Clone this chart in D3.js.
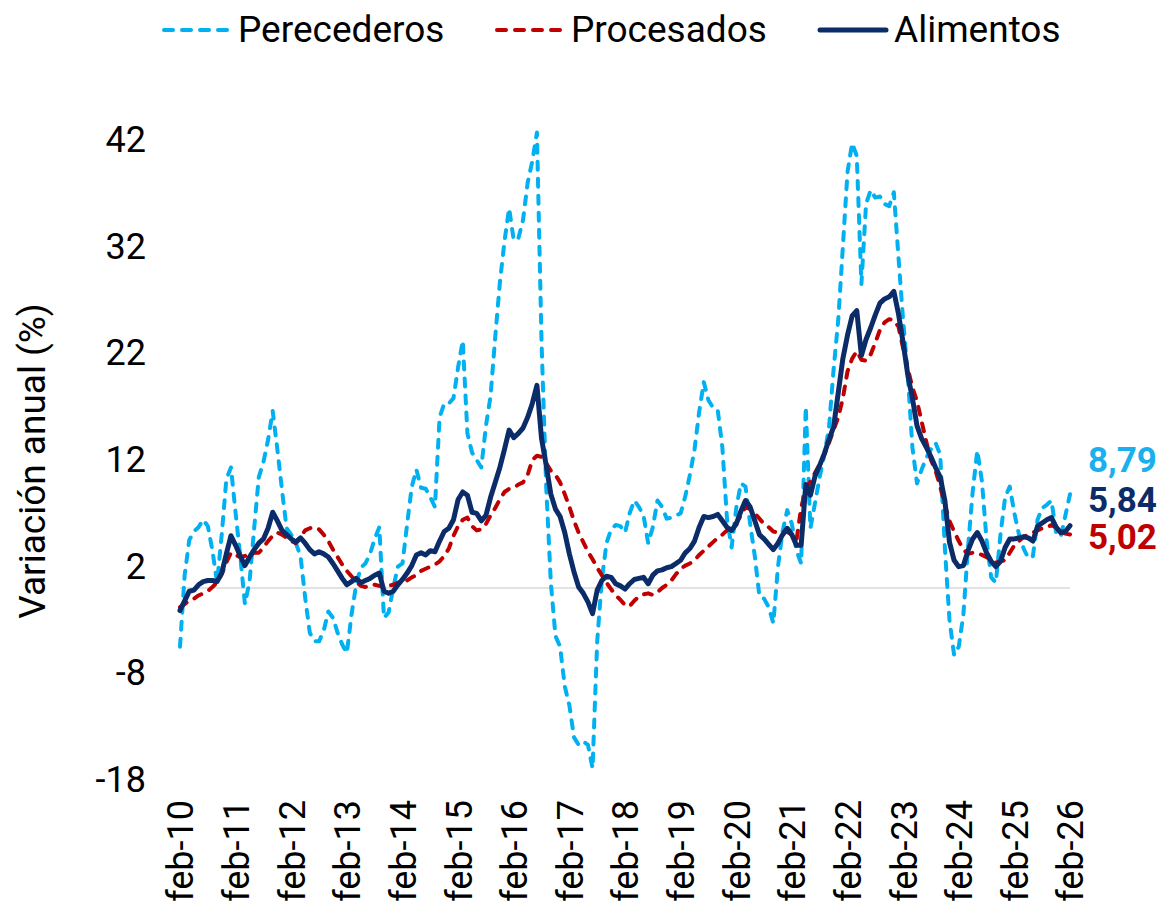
<!DOCTYPE html>
<html>
<head>
<meta charset="utf-8">
<script src="https://cdn.jsdelivr.net/npm/d3@7"></script>
<style>
  body { margin: 0; background: #fff; }
  svg { font-family: Roboto, "Noto Sans", sans-serif; }
</style>
</head>
<body>
<svg id="chart" width="1168" height="910"></svg>
<script>
// monthly data, feb-10 .. feb-26
const tickLabels = ["feb-10","feb-11","feb-12","feb-13","feb-14","feb-15","feb-16","feb-17",
  "feb-18","feb-19","feb-20","feb-21","feb-22","feb-23","feb-24","feb-25","feb-26"];
const yTicks = [-18, -8, 2, 12, 22, 32, 42];

const perecederos = [
  -5.5, 1.2, 4.5, 5.3, 5.7, 6.4, 5.8, 3.5, 0.5, 5.0, 10.2, 11.3,
  7.0, 3.0, -1.5, 0.6, 5.6, 10.4, 11.8, 13.9, 16.6, 13.0, 9.2, 5.6,
  5.0, 4.2, 3.0, -0.9, -4.2, -5.0, -5.0, -4.0, -2.2, -2.8, -4.2, -5.3,
  -6.1, -2.5, 0.3, 1.9, 2.3, 3.2, 4.6, 5.7, -2.8, -2.3, 0.0, 2.0,
  2.3, 6.0, 9.5, 11.1, 9.4, 9.3, 8.5, 7.6, 16.0, 17.3, 17.3, 17.8,
  20.7, 23.2, 14.5, 12.7, 12.0, 11.3, 15.2, 18.0, 23.5, 28.6, 32.5, 35.6,
  32.6, 32.8, 34.5, 38.0, 40.0, 42.7, 23.0, 9.5, 0.5, -4.5, -5.5, -9.2,
  -11.0, -14.0, -14.7, -14.4, -14.7, -16.9, -5.0, 0.75, 4.2, 5.5, 5.9, 5.8,
  5.2, 7.0, 8.2, 7.6, 6.8, 4.2, 5.7, 8.2, 7.6, 6.5, 6.6, 6.8,
  7.0, 8.6, 10.6, 13.0, 16.5, 19.3, 17.6, 16.9, 16.7, 13.2, 6.5, 3.8,
  7.5, 9.8, 9.5, 6.0, 3.0, -0.8, -1.0, -1.8, -3.3, 2.0, 5.3, 7.3,
  6.0, 3.5, 2.3, 17.0, 5.6, 8.0, 10.4, 12.5, 15.0, 20.5, 25.1, 32.0,
  39.0, 41.7, 40.5, 28.5, 36.0, 37.3, 36.6, 36.7, 36.0, 35.8, 37.1, 31.0,
  25.1, 20.0, 13.2, 9.8, 11.1, 12.2, 13.0, 13.6, 12.5, 3.8, -3.0, -6.3,
  -5.5, -2.5, 3.8, 9.0, 12.9, 10.0, 4.5, 1.0, 0.5, 5.0, 8.5, 9.5,
  7.0, 5.0, 3.7, 2.8, 3.0, 6.4, 7.5, 7.8, 8.2, 5.2, 4.8, 6.8,
  8.79
];

const procesados = [
  -1.8, -1.5, -1.2, -1.0, -0.7, -0.5, -0.3, 0.1, 0.5, 1.3, 2.4, 3.3,
  3.1, 2.9, 3.0, 3.2, 3.3, 3.3, 3.8, 4.4, 4.9, 5.2, 5.0, 4.7,
  4.4, 4.2, 4.8, 5.4, 5.6, 5.7, 5.5, 5.0, 4.4, 3.6, 2.9, 2.2,
  1.6, 1.1, 0.6, 0.2, 0.1, 0.3, 0.3, 0.2, 0.1, 0.2, 0.3, 0.5,
  0.6, 0.7, 1.0, 1.2, 1.6, 1.8, 2.0, 2.2, 2.5, 3.0, 3.7, 4.9,
  5.8, 6.4, 6.6, 5.8, 5.4, 5.5, 6.0, 6.8, 7.5, 8.3, 9.0, 9.3,
  9.4, 9.7, 9.9, 10.6, 12.0, 12.4, 12.3, 11.7, 11.0, 10.6, 9.9, 8.8,
  7.6, 6.3, 5.2, 4.3, 3.4, 2.7, 1.9, 1.2, 0.5, -0.1, -0.7, -1.1,
  -1.6, -1.7, -1.2, -0.8, -0.6, -0.5, -0.65, -0.4, 0.0, 0.3, 0.7, 1.3,
  1.8, 2.1, 2.3, 2.6, 3.1, 3.5, 3.9, 4.3, 4.7, 5.0, 5.4, 5.8,
  6.1, 6.8, 7.6, 7.4, 7.0, 6.5, 6.0, 5.7, 5.3, 5.2, 5.25, 5.25,
  5.0, 4.5, 7.5, 9.3, 10.0, 10.8, 11.6, 12.5, 13.6, 14.8, 16.0, 17.8,
  20.3, 21.5, 22.2, 21.4, 21.3, 21.9, 23.0, 24.2, 24.9, 25.2, 25.1, 24.5,
  22.5, 20.6, 18.8, 17.5, 15.6, 13.7, 12.0, 11.0, 9.5, 7.8, 6.3, 5.3,
  4.4, 3.6, 3.2, 3.3, 3.3, 3.1, 2.9, 2.6, 2.4, 2.5, 2.6, 3.3,
  4.0, 4.4, 4.8, 5.0, 5.2, 5.4, 5.6, 5.7, 5.9, 5.7, 5.25, 5.1,
  5.02
];

const alimentos = [
  -2.1, -1.2, -0.3, -0.2, 0.3, 0.6, 0.7, 0.7, 0.6, 1.4, 3.2, 4.9,
  4.0, 3.0, 2.1, 2.9, 3.6, 4.2, 4.6, 5.6, 7.1, 6.3, 5.4, 5.0,
  4.6, 4.3, 4.7, 4.2, 3.6, 3.2, 3.4, 3.2, 2.9, 2.3, 1.6, 0.9,
  0.3, 0.6, 0.9, 0.5, 0.7, 0.9, 1.2, 1.4, -0.3, -0.5, -0.3, 0.3,
  0.8, 1.4, 2.1, 3.1, 3.3, 3.1, 3.5, 3.4, 4.4, 5.3, 5.6, 6.4,
  8.3, 9.0, 8.7, 7.1, 7.0, 6.3, 6.8, 8.5, 9.9, 11.3, 13.0, 14.8,
  14.1, 14.5, 15.0, 16.0, 17.3, 19.0, 14.0, 11.5, 8.8, 7.4, 6.7, 5.2,
  3.2, 1.5, 0.1, -0.5, -1.3, -2.4, -0.2, 0.7, 1.1, 1.0, 0.4, 0.2,
  -0.1, 0.4, 0.8, 0.9, 1.0, 0.4, 1.2, 1.6, 1.7, 1.9, 2.0, 2.3,
  2.6, 3.3, 3.7, 4.4, 5.7, 6.7, 6.6, 6.7, 6.9, 6.3, 5.7, 5.4,
  6.0, 7.2, 8.2, 7.6, 6.3, 5.0, 4.6, 4.1, 3.6, 4.2, 5.0, 5.6,
  5.0, 4.0, 4.0, 9.7, 8.7, 10.5, 11.5, 12.6, 13.9, 15.1, 18.3, 21.5,
  23.7, 25.5, 26.0, 21.8, 23.3, 24.4, 25.6, 26.7, 27.1, 27.3, 27.8, 25.7,
  23.0, 20.0, 17.8, 15.2, 14.0, 13.2, 12.3, 11.3, 10.4, 8.2, 4.3, 2.6,
  2.0, 2.1, 3.5, 4.6, 5.2, 4.4, 3.3, 2.5, 2.0, 2.5, 3.8, 4.6,
  4.6, 4.7, 4.8, 4.7, 4.4, 5.8, 6.1, 6.4, 6.6, 5.7, 5.2, 5.3,
  5.84
];

const seriesNames = ["Perecederos", "Procesados", "Alimentos"];
const endLabels = ["8,79", "5,02", "5,84"];

const styles = {
  Perecederos: { color: "#00b0f0", label: "#1ab0ee", width: 4, dash: "8,9", labelDy: -34 },
  Procesados: { color: "#c00000", label: "#c00000", width: 4, dash: "8,9", labelDy: 2 },
  Alimentos: { color: "#0b2c68", label: "#0b2c68", width: 5, dash: null, labelDy: -26 }
};

function drawChart() {
  const dims = { left: 180, right: 1070, top: 140, bottom: 780 };
  const svg = d3.select("#chart");

  const x = d3.scaleLinear().domain([0, alimentos.length - 1]).range([dims.left, dims.right]);
  const y = d3.scaleLinear().domain([-18, 42]).range([dims.bottom, dims.top]);

  // zero line
  svg.append("line")
    .attr("x1", x(0)).attr("x2", x(alimentos.length - 1))
    .attr("y1", y(0)).attr("y2", y(0))
    .attr("stroke", "#d9d9d9").attr("stroke-width", 1.5);

  // y axis
  const axisY = d3.axisLeft(y).tickValues(yTicks).tickSize(0).tickPadding(0).tickFormat(d => d);
  const gy = svg.append("g").attr("transform", `translate(${dims.left - 34},0)`).call(axisY);
  gy.select(".domain").remove();
  gy.selectAll("text").attr("font-size", 36).attr("fill", "#000").attr("font-family", "Roboto");

  // x axis
  const axisX = d3.axisBottom(x)
    .tickValues(tickLabels.map((d, i) => i * 12))
    .tickSize(0)
    .tickFormat((d, i) => tickLabels[i]);
  const gx = svg.append("g").attr("transform", `translate(0,${dims.bottom + 20})`).call(axisX);
  gx.select(".domain").remove();
  gx.selectAll("text")
    .attr("font-size", 36).attr("fill", "#000").attr("font-family", "Roboto")
    .attr("text-anchor", "end")
    .attr("transform", "rotate(-90)")
    .attr("x", 0).attr("y", 0).attr("dy", "0.36em");

  // axis title
  svg.append("text")
    .attr("transform", `translate(45,${(dims.top + dims.bottom) / 2 + 1})rotate(-90)`)
    .attr("text-anchor", "middle")
    .attr("font-size", 37)
    .text("Variación anual (%)");

  const line = d3.line().x((d, i) => x(i)).y(d => y(d));
  const dataBySeries = { Perecederos: perecederos, Procesados: procesados, Alimentos: alimentos };

  seriesNames.forEach((name, k) => {
    const st = styles[name];
    const values = dataBySeries[name];
    svg.append("path")
      .datum(values)
      .attr("d", line)
      .attr("fill", "none")
      .attr("stroke", st.color)
      .attr("stroke-width", st.width)
      .attr("stroke-linejoin", "round")
      .attr("stroke-linecap", "round")
      .attr("stroke-dasharray", st.dash);

    const last = values.length - 1;
    svg.append("text")
      .attr("x", x(last) + 18)
      .attr("y", y(values[last]) + st.labelDy)
      .attr("dy", "0.35em")
      .attr("font-size", 35)
      .attr("font-weight", "bold")
      .attr("fill", st.label)
      .text(endLabels[k]);
  });

  // legend
  const legendItems = [
    { name: "Perecederos", x: 164 },
    { name: "Procesados", x: 497 },
    { name: "Alimentos", x: 820 }
  ];
  const legend = svg.append("g");
  legendItems.forEach(item => {
    const st = styles[item.name];
    legend.append("line")
      .attr("x1", item.x).attr("x2", item.x + 66)
      .attr("y1", 30).attr("y2", 30)
      .attr("stroke", st.color)
      .attr("stroke-width", st.width)
      .attr("stroke-linecap", "round")
      .attr("stroke-dasharray", st.dash ? "9,9" : null);
    legend.append("text")
      .attr("x", item.x + 74).attr("y", 29)
      .attr("dy", "0.35em")
      .attr("font-size", 37)
      .text(item.name);
  });
}

drawChart();
</script>
</body>
</html>
